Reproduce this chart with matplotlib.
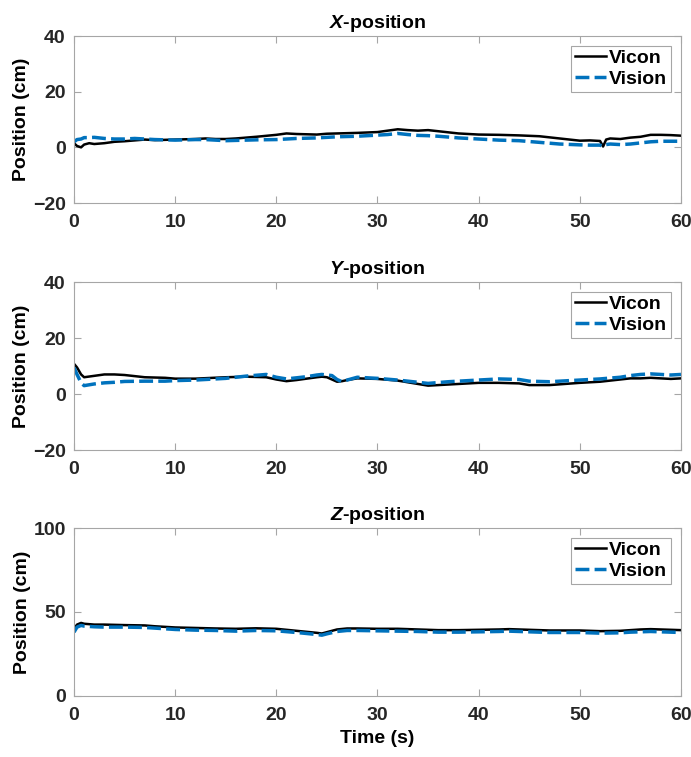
import matplotlib
matplotlib.use("Agg")
import matplotlib.pyplot as plt

plt.rcParams['font.family'] = ['Liberation Sans', 'DejaVu Sans']
plt.rcParams['mathtext.fontset'] = 'custom'
plt.rcParams['mathtext.it'] = 'Liberation Sans:italic:bold'
plt.rcParams['mathtext.rm'] = 'Liberation Sans:bold'

# X-position
t_x = [0, 0.3, 0.7, 1, 1.5, 2, 3, 4, 5, 6, 7, 8, 10, 12, 13, 14, 15, 16, 18, 20, 21, 22, 24, 25, 26, 28, 30, 31, 32, 33,
       34, 35, 36, 38, 40, 42, 44, 46, 48, 50, 51, 52, 52.3, 52.6, 53, 54, 55, 56, 57, 58, 59, 60]
vicon_x = [1.5, 0.5, 0.0, 1.0, 1.5, 1.2, 1.5, 2.0, 2.2, 2.5, 2.8, 2.6, 2.8, 3.0, 3.2, 3.0, 3.0, 3.2, 3.8, 4.5, 5.0, 4.8, 4.6, 4.9, 5.0, 5.2, 5.5, 6.0,
            6.5, 6.2, 6.0, 6.2, 5.8, 5.0, 4.6, 4.5, 4.3, 4.0, 3.2, 2.4, 2.5, 2.3, 0.3, 2.8, 3.2, 3.0, 3.5, 3.8, 4.5, 4.5, 4.4, 4.2]
vision_x = [2.0, 2.8, 3.0, 3.5, 3.5, 3.6, 3.2, 3.0, 3.0, 3.2, 3.0, 2.8, 2.6, 2.8, 2.8, 2.6, 2.4, 2.5, 2.7, 2.8, 3.0, 3.2, 3.4, 3.6, 3.8, 4.0, 4.4, 4.6,
             5.0, 4.6, 4.3, 4.2, 4.0, 3.4, 3.0, 2.6, 2.4, 1.8, 1.2, 0.9, 0.8, 0.8, 0.4, 1.0, 1.2, 1.0, 1.2, 1.6, 2.0, 2.2, 2.2, 2.2]

# Y-position
t_y = [0, 0.3, 0.7, 1, 2, 3, 4, 5, 7, 9, 10, 12, 15, 17, 19, 20, 21, 22, 23, 24, 24.5, 25, 25.5, 26, 26.5, 27, 28, 30,
       32, 34, 35, 37, 40, 42, 44, 45, 47, 50, 52, 54, 55, 56, 57, 58, 59, 60]
vicon_y = [10.8, 9.5, 7.0, 6.0, 6.5, 7.0, 7.0, 6.8, 6.0, 5.8, 5.5, 5.5, 6.0, 6.2, 6.0, 5.2, 4.6, 5.0, 5.5, 6.0, 6.2, 6.0, 5.2, 4.4, 4.6, 5.0, 5.6, 5.4,
           4.8, 3.6, 3.0, 3.4, 4.0, 4.0, 3.8, 3.2, 3.2, 4.0, 4.4, 5.2, 5.6, 5.6, 5.8, 5.6, 5.4, 5.6]
vision_y = [9.5, 7.0, 4.0, 3.0, 3.6, 4.0, 4.2, 4.5, 4.6, 4.6, 4.8, 5.0, 5.6, 6.4, 7.0, 6.0, 5.4, 5.8, 6.2, 6.8, 7.0, 6.8, 6.6, 5.2, 4.4, 5.0, 6.0, 5.6,
            5.0, 4.2, 3.8, 4.4, 5.0, 5.4, 5.2, 4.6, 4.4, 5.0, 5.4, 6.0, 6.6, 7.0, 7.2, 7.0, 6.8, 7.0]

# Z-position
t_z = [0, 0.3, 0.7, 1, 2, 3, 5, 7, 8, 10, 12, 14, 16, 18, 20, 22, 23, 24, 24.5, 25, 26, 27, 28, 30, 32, 34, 36, 38, 40,
       42, 43, 45, 47, 50, 52, 54, 55, 56, 57, 58, 60]
vicon_z = [40.0, 42.5, 43.5, 43.0, 42.5, 42.5, 42.2, 42.0, 41.5, 40.8, 40.5, 40.2, 40.0, 40.3, 40.0, 38.8, 38.2, 37.6, 37.2, 38.0, 39.6, 40.2, 40.2, 40.0,
           40.0, 39.6, 39.2, 39.2, 39.4, 39.6, 39.8, 39.4, 39.0, 39.0, 38.6, 38.8, 39.2, 39.6, 39.8, 39.6, 39.2]
vision_z = [38.0, 41.0, 42.0, 41.6, 41.2, 41.0, 41.0, 40.8, 40.4, 39.6, 39.2, 39.0, 38.6, 39.0, 38.8, 37.8, 37.2, 36.6, 36.2, 37.0, 38.4, 39.0, 39.0, 38.8,
            38.6, 38.4, 38.0, 38.0, 38.2, 38.4, 38.6, 38.2, 37.8, 37.8, 37.4, 37.6, 38.0, 38.2, 38.4, 38.2, 37.8]

panels = [
    ("$X$-position", t_x, vicon_x, vision_x, (-20, 40), [-20, 0, 20, 40]),
    ("$Y$-position", t_y, vicon_y, vision_y, (-20, 40), [-20, 0, 20, 40]),
    ("$Z$-position", t_z, vicon_z, vision_z, (0, 100), [0, 50, 100]),
]
boxes = [(0.1071, 0.7318, 0.8784, 0.2206),
         (0.1071, 0.4055, 0.8784, 0.2219),
         (0.1071, 0.0806, 0.8784, 0.2219)]

fig = plt.figure(figsize=(6.91, 7.57), dpi=100)

for (title, t, vic, vis, ylim, yticks), box in zip(panels, boxes):
    ax = fig.add_axes(box)
    ax.plot(t, vic, color='black', lw=1.8, label='Vicon')
    ax.plot(t, vis, color='#0072BD', lw=2.5, ls='--', dashes=(4, 1.5), label='Vision')
    ax.set_xlim(0, 60)
    ax.set_ylim(*ylim)
    ax.set_xticks([0, 10, 20, 30, 40, 50, 60])
    ax.set_yticks(yticks)
    ax.tick_params(direction='in', top=True, right=True, labelsize=14, labelcolor='#262626',
                   color='#a6a6a6', length=5, width=0.8)
    ax.tick_params(axis='x', pad=8)
    ax.tick_params(axis='y', pad=6)
    for lab in ax.get_xticklabels() + ax.get_yticklabels():
        lab.set_fontweight('bold')
    for sp in ax.spines.values():
        sp.set_color('#a6a6a6')
        sp.set_linewidth(0.8)
    ax.set_title(title, fontsize=14, fontweight='bold', pad=6)
    ax.set_ylabel('Position (cm)', fontsize=14, fontweight='bold', labelpad=2)
    leg = ax.legend(loc='upper right', prop={'weight': 'bold', 'size': 14},
                    fancybox=False, framealpha=1, edgecolor='#a6a6a6', handlelength=1.6,
                    handletextpad=0.15, borderpad=0.2, labelspacing=0.15, borderaxespad=0.5)
    leg.get_frame().set_linewidth(0.8)

ax.set_xlabel('Time (s)', fontsize=14, fontweight='bold', labelpad=4)

fig.savefig('out.png', dpi=100)
